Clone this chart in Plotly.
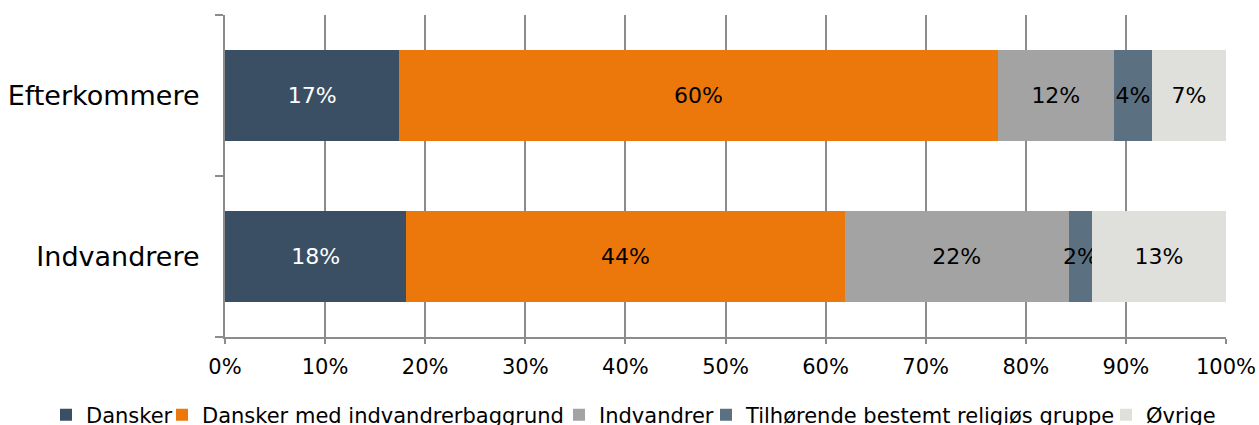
import plotly.graph_objects as go

categories = ["Indvandrere", "Efterkommere"]
series_names = ["Dansker", "Dansker med indvandrerbaggrund", "Indvandrer",
                "Tilhørende bestemt religiøs gruppe", "Øvrige"]
dansker = [18.1, 17.4]
dansker_med = [43.8, 59.8]
indvandrer = [22.4, 11.6]
religioes = [2.3, 3.8]
oevrige = [13.4, 7.4]
x_ticks = [0, 10, 20, 30, 40, 50, 60, 70, 80, 90, 100]
x_tick_labels = ["0%", "10%", "20%", "30%", "40%", "50%", "60%", "70%", "80%", "90%", "100%"]

values = [dansker, dansker_med, indvandrer, religioes, oevrige]
colors = ["#3a4f64", "#ec770b", "#a3a3a3", "#5b7182", "#dfe0dc"]
text_colors = ["white", "black", "black", "black", "black"]
legend_text_x = [86, 202, 599, 746, 1146]  # legend layout (px from left)

FONT = "DejaVu Sans"
W, H = 1259, 425
fig = go.Figure()
legend_layouts = {}
for i, (name, vals, col, tcol) in enumerate(zip(series_names, values, colors, text_colors)):
    lname = "legend" if i == 0 else f"legend{i + 1}"
    fig.add_trace(go.Bar(
        y=categories, x=vals, name=name, orientation="h",
        marker=dict(color=col, line=dict(width=0)),
        texttemplate="%{x:.0f}%", textposition="inside",
        insidetextanchor="middle", constraintext="none", textangle=0,
        textfont=dict(family=FONT, size=22, color=tcol),
        hoverinfo="skip", legend=lname, showlegend=True,
    ))
    legend_layouts[lname] = dict(
        orientation="h", xref="container", yref="container",
        x=(legend_text_x[i] - 40) / W, xanchor="left",
        y=(H - 415) / H, yanchor="middle",
        font=dict(family=FONT, size=21, color="black"),
        bgcolor="rgba(0,0,0,0)", borderwidth=0, visible=True,
    )

fig.update_layout(
    template="none", showlegend=True,
    barmode="stack", bargap=0.435,
    width=W, height=H,
    margin=dict(l=225, r=33, t=15, b=88, autoexpand=False),
    paper_bgcolor="white", plot_bgcolor="white",
    font=dict(family=FONT, color="black"),
    **legend_layouts,
)
fig.update_xaxes(
    range=[0, 100], tickvals=x_ticks, ticktext=x_tick_labels,
    showgrid=True, gridcolor="#8c8c8c", gridwidth=2,
    showline=True, linecolor="#8c8c8c", linewidth=2,
    ticks="outside", ticklen=5, tickcolor="#8c8c8c", tickwidth=2,
    tickfont=dict(family=FONT, size=21, color="black"),
    ticklabelstandoff=5, zeroline=False, fixedrange=True, automargin=False,
)
fig.update_yaxes(
    categoryorder="array", categoryarray=categories,
    showline=True, linecolor="#8c8c8c", linewidth=2,
    ticks="outside", tickson="boundaries", ticklen=8,
    tickcolor="#8c8c8c", tickwidth=2,
    tickfont=dict(family=FONT, size=27, color="black"),
    ticklabelstandoff=18, showgrid=False, zeroline=False,
    fixedrange=True, automargin=False,
)

fig.write_html("out.html", config={"displayModeBar": False},
               post_script="document.body.style.margin='0';")
